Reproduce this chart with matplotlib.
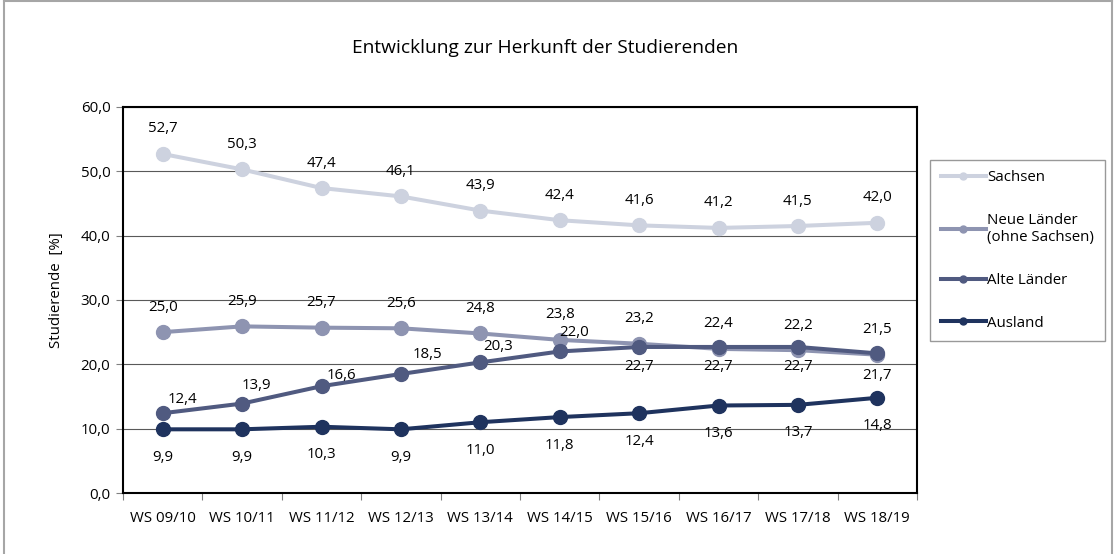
import numpy as np
import matplotlib.pyplot as plt
from matplotlib.lines import Line2D

plt.rcParams['font.family'] = ['Open Sans', 'DejaVu Sans']

semester = ['WS 09/10', 'WS 10/11', 'WS 11/12', 'WS 12/13', 'WS 13/14',
            'WS 14/15', 'WS 15/16', 'WS 16/17', 'WS 17/18', 'WS 18/19']
sachsen = [52.7, 50.3, 47.4, 46.1, 43.9, 42.4, 41.6, 41.2, 41.5, 42.0]
neue = [25.0, 25.9, 25.7, 25.6, 24.8, 23.8, 23.2, 22.4, 22.2, 21.5]
alte = [12.4, 13.9, 16.6, 18.5, 20.3, 22.0, 22.7, 22.7, 22.7, 21.7]
ausland = [9.9, 9.9, 10.3, 9.9, 11.0, 11.8, 12.4, 13.6, 13.7, 14.8]

names = ['Sachsen', 'Neue Länder\n(ohne Sachsen)', 'Alte Länder', 'Ausland']
colors = ['#cdd2df', '#8e94b1', '#505a80', '#1f335e']

# label offsets in pixels
alte_off = [(20, 14), (14, 18), (20, 11), (27, 19), (18, 16), (14, 19),
            (0, -20), (0, -20), (0, -20), (0, -22)]

fs = 10.8

fig = plt.figure(figsize=(11.14, 5.54), dpi=100)
ax = fig.add_axes([0.1104, 0.1101, 0.7128, 0.6968])

x = np.arange(len(semester))
series = [sachsen, neue, alte, ausland]
handles = []
for vals, c in zip(series, colors):
    ax.plot(x, vals, color=c, lw=2.9, marker='o', ms=10, zorder=3)
    handles.append(Line2D([], [], color=c, lw=2.9, marker='o', ms=5))

def fmt(v):
    return ('%.1f' % v).replace('.', ',')

for i in x:
    ax.annotate(fmt(sachsen[i]), (i, sachsen[i]), xytext=(0, 25), textcoords='offset pixels',
                ha='center', va='center', fontsize=fs)
    ax.annotate(fmt(neue[i]), (i, neue[i]), xytext=(0, 25), textcoords='offset pixels',
                ha='center', va='center', fontsize=fs)
    ax.annotate(fmt(alte[i]), (i, alte[i]), xytext=alte_off[i], textcoords='offset pixels',
                ha='center', va='center', fontsize=fs)
    ax.annotate(fmt(ausland[i]), (i, ausland[i]), xytext=(0, -28), textcoords='offset pixels',
                ha='center', va='center', fontsize=fs)

ax.set_xlim(-0.5, 9.5)
ax.set_ylim(0, 60)
ax.set_yticks(np.arange(0, 61, 10))
ax.set_yticklabels([fmt(v) for v in np.arange(0, 61, 10)], fontsize=fs)
ax.set_xticks(x)
ax.set_xticklabels(semester, fontsize=fs)
ax.set_xticks(np.arange(-0.5, 10, 1), minor=True)
ax.tick_params(axis='x', which='major', length=0, pad=13)
ax.tick_params(axis='x', which='minor', length=5, width=0.8, color='#808080')
ax.tick_params(axis='y', length=5, width=0.8, color='#808080', pad=4)
ax.yaxis.grid(True, color='#595959', lw=0.8)
ax.set_axisbelow(True)
for s in ax.spines.values():
    s.set_linewidth(1.5)
    s.set_color('black')
ax.set_ylabel('Studierende  [%]', fontsize=fs)
ax.yaxis.set_label_coords(-0.0745, 0.526)

fig.text(0.489, 0.913, 'Entwicklung zur Herkunft der Studierenden', ha='center', va='center',
         fontsize=13.8)

leg = fig.legend(handles, names, loc='upper left', bbox_to_anchor=(0.835, 0.712),
                 frameon=True, fancybox=False, fontsize=fs, handlelength=3.0,
                 labelspacing=1.85, borderpad=0.7, handletextpad=0.1, borderaxespad=0)
leg.get_frame().set_edgecolor('#808080')
leg.get_frame().set_linewidth(1.0)

# chart area border (left, top, right visible)
fig.add_artist(Line2D([0.004, 0.004], [0, 0.998], transform=fig.transFigure,
                      color='#a6a6a6', lw=1.5))
fig.add_artist(Line2D([0.004, 0.998], [0.998, 0.998], transform=fig.transFigure,
                      color='#a6a6a6', lw=1.5))
fig.add_artist(Line2D([0.998, 0.998], [0, 0.998], transform=fig.transFigure,
                      color='#a6a6a6', lw=1.5))

fig.savefig('out.png', dpi=100)
